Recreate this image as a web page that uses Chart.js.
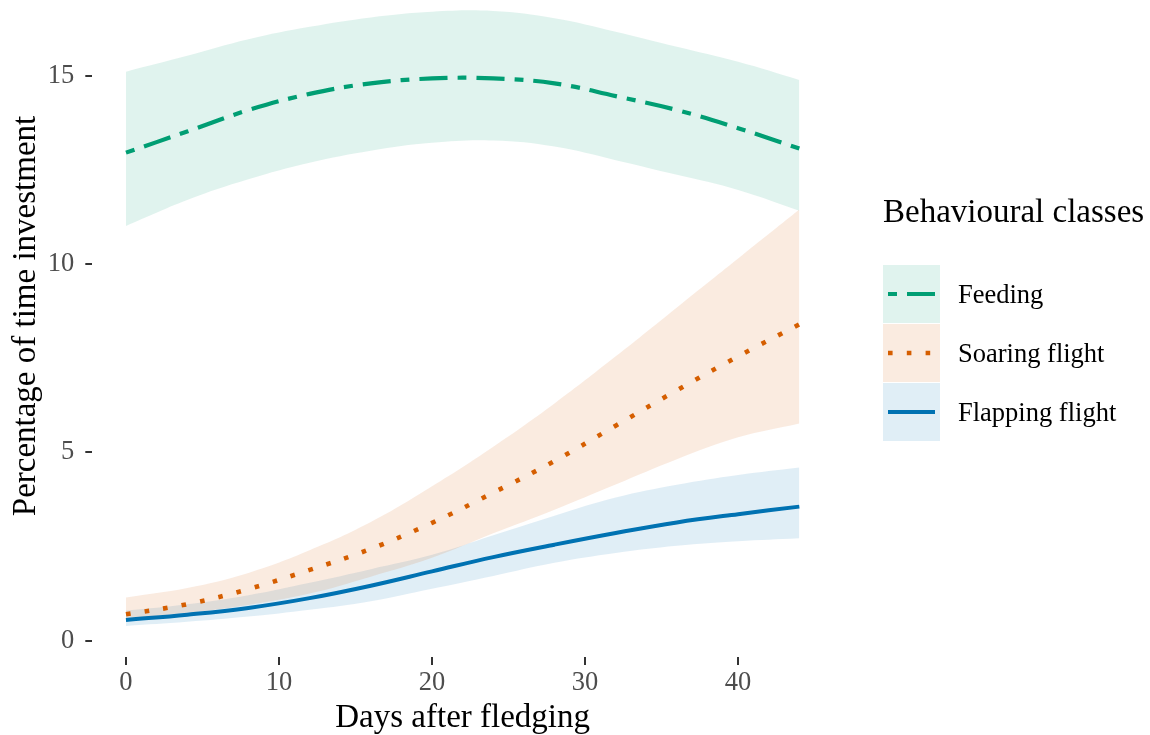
<!DOCTYPE html>
<html>
<head>
<meta charset="utf-8">
<title>Behavioural classes after fledging</title>
<script src="https://cdn.jsdelivr.net/npm/chart.js@4"></script>
<style>
    html, body { margin: 0; padding: 0; background: #ffffff; }
    canvas { display: block; }
</style>
</head>
<body>
<canvas id="chart" width="1150" height="735"></canvas>
<script>
// Days after fledging at which the fitted curves are sampled
const days = [0, 4, 8, 12, 16, 20, 24, 28, 32, 36, 40, 44];

// Fitted percentage and confidence band, per behavioural class
const feedingFit  = [12.96, 13.52, 14.09, 14.52, 14.80, 14.93, 14.93, 14.80, 14.46, 14.09, 13.61, 13.07];
const feedingLow  = [11.01, 11.70, 12.25, 12.69, 13.01, 13.22, 13.28, 13.12, 12.76, 12.37, 11.97, 11.42];
const feedingHigh = [15.11, 15.53, 15.97, 16.30, 16.55, 16.70, 16.72, 16.53, 16.17, 15.77, 15.37, 14.89];

const soaringFit  = [0.70, 0.97, 1.37, 1.88, 2.44, 3.13, 3.93, 4.77, 5.71, 6.65, 7.55, 8.40];
const soaringLow  = [0.58, 0.74, 0.95, 1.25, 1.70, 2.20, 2.85, 3.48, 4.15, 4.82, 5.40, 5.77];
const soaringHigh = [1.15, 1.40, 1.80, 2.40, 3.15, 4.10, 5.15, 6.30, 7.55, 8.85, 10.15, 11.45];

const flappingFit  = [0.55, 0.69, 0.87, 1.13, 1.46, 1.84, 2.22, 2.55, 2.86, 3.14, 3.36, 3.56];
const flappingLow  = [0.39, 0.50, 0.64, 0.82, 1.05, 1.38, 1.72, 2.07, 2.33, 2.52, 2.64, 2.72];
const flappingHigh = [0.80, 0.97, 1.21, 1.54, 1.90, 2.28, 2.80, 3.32, 3.80, 4.14, 4.40, 4.60];

const xTicks = [0, 10, 20, 30, 40];
const yTicks = [0, 5, 10, 15];

const seriesNames = ['Feeding', 'Soaring flight', 'Flapping flight'];
const seriesColors = ['#009E73', '#D55E00', '#0072B2'];
const seriesDash = [[9, 10, 28, 10], [4.6, 14.2], []];
const seriesWidth = [4.2, 4.6, 4];

const fits = [feedingFit, soaringFit, flappingFit];
const lows = [feedingLow, soaringLow, flappingLow];
const highs = [feedingHigh, soaringHigh, flappingHigh];

const serif = '"Liberation Serif", "Times New Roman", serif';

function points(values) {
    return days.map((d, i) => ({ x: d, y: values[i] }));
}

function fade(hex, alpha) {
    const n = parseInt(hex.slice(1), 16);
    return `rgba(${(n >> 16) & 255}, ${(n >> 8) & 255}, ${n & 255}, ${alpha})`;
}

const datasets = [];

// Confidence ribbons: lower bound, then upper bound filled back down to it
fits.forEach((_, k) => {
    datasets.push({
        data: points(lows[k]),
        borderWidth: 0,
        pointRadius: 0,
        fill: false
    });
    datasets.push({
        data: points(highs[k]),
        borderWidth: 0,
        pointRadius: 0,
        backgroundColor: fade(seriesColors[k], 0.12),
        fill: '-1'
    });
});

// Fitted curves drawn over the ribbons
fits.forEach((values, k) => {
    datasets.push({
        label: seriesNames[k],
        data: points(values),
        borderColor: seriesColors[k],
        borderWidth: seriesWidth[k],
        borderDash: seriesDash[k],
        borderCapStyle: 'butt',
        pointRadius: 0,
        fill: false
    });
});

// Axis titles and the legend with ribbon-coloured keys
const decorations = {
    id: 'decorations',
    afterDraw(chart) {
        const ctx = chart.ctx;
        const area = chart.chartArea;
        ctx.save();
        ctx.fillStyle = '#000000';
        ctx.textBaseline = 'alphabetic';

        ctx.font = `33px ${serif}`;
        ctx.textAlign = 'center';
        ctx.fillText('Days after fledging', (area.left + area.right) / 2, 727);

        ctx.save();
        ctx.translate(35, 316);
        ctx.rotate(-Math.PI / 2);
        ctx.fillText('Percentage of time investment', 0, 0);
        ctx.restore();

        ctx.textAlign = 'left';
        ctx.fillText('Behavioural classes', 883, 222);

        seriesNames.forEach((name, k) => {
            const top = 265 + k * 59;
            const mid = top + 29;
            ctx.fillStyle = fade(seriesColors[k], 0.12);
            ctx.fillRect(883, top, 57, 58);

            ctx.strokeStyle = seriesColors[k];
            ctx.lineWidth = seriesWidth[k];
            ctx.lineCap = 'butt';
            ctx.setLineDash(seriesDash[k]);
            ctx.beginPath();
            ctx.moveTo(888, mid);
            ctx.lineTo(935, mid);
            ctx.stroke();
            ctx.setLineDash([]);

            ctx.fillStyle = '#000000';
            ctx.font = `26.5px ${serif}`;
            ctx.fillText(name, 958, mid + 9);
        });
        ctx.restore();
    }
};

const tickFont = { family: serif, size: 26.5 };

new Chart(document.getElementById('chart'), {
    type: 'line',
    data: { datasets: datasets },
    plugins: [decorations],
    options: {
        responsive: false,
        animation: false,
        devicePixelRatio: 1,
        layout: { padding: { left: 0, right: 317, top: 0, bottom: 0 } },
        elements: { line: { tension: 0.4 } },
        plugins: {
            legend: { display: false },
            tooltip: { enabled: false },
            filler: { drawTime: 'beforeDatasetsDraw' }
        },
        scales: {
            x: {
                type: 'linear',
                min: -2.2,
                max: 46.2,
                afterBuildTicks: scale => { scale.ticks = xTicks.map(v => ({ value: v })); },
                afterFit: scale => {
                    scale.height = 78;
                    scale.paddingLeft = 0;
                    scale.paddingRight = 0;
                },
                border: { display: false },
                grid: { drawOnChartArea: false, drawTicks: true, tickLength: 8, color: '#333333', lineWidth: 2 },
                ticks: { padding: 2, color: '#4d4d4d', font: tickFont, maxRotation: 0 }
            },
            y: {
                type: 'linear',
                min: -0.433,
                max: 17.013,
                afterBuildTicks: scale => { scale.ticks = yTicks.map(v => ({ value: v })); },
                afterFit: scale => {
                    scale.width = 92.3;
                    scale.paddingTop = 0;
                    scale.paddingBottom = 0;
                },
                border: { display: false },
                grid: { drawOnChartArea: false, drawTicks: true, tickLength: 7, color: '#333333', lineWidth: 2 },
                ticks: { padding: 11, color: '#4d4d4d', font: tickFont }
            }
        }
    }
});
</script>
</body>
</html>
